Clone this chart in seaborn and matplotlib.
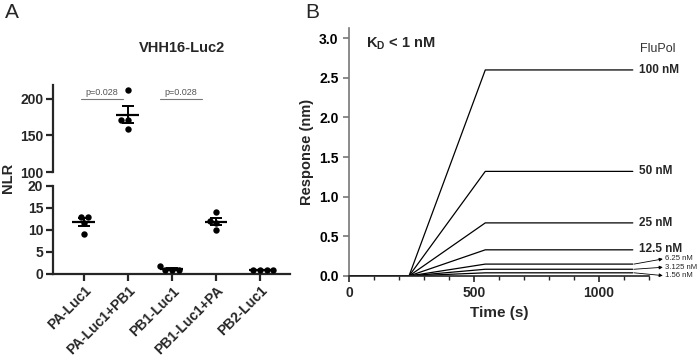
import numpy as np
import pandas as pd
import seaborn as sns
import matplotlib
matplotlib.use("Agg")
from matplotlib import pyplot as plt

# ---------------- data ----------------
# Panel A: NLR per construct (4 replicates each)
constructs = ["PA-Luc1", "PA-Luc1+PB1", "PB1-Luc1", "PB1-Luc1+PA", "PB2-Luc1"]
nlr_pa = [13.0, 13.0, 11.7, 9.2]
nlr_pa_pb1 = [212.0, 171.0, 171.0, 159.0]
nlr_pb1 = [1.0, 1.8, 1.0, 1.0]
nlr_pb1_pa = [14.0, 12.0, 11.5, 10.0]
nlr_pb2 = [1.0, 1.0, 1.0, 1.0]
pvals = ["p=0.028", "p=0.028"]

# Panel B: BLI sensorgram (time points and plateau response per concentration)
time_s = [0, 240, 545, 1135]
conc_labels = ["100 nM", "50 nM", "25 nM", "12.5 nM", "6.25 nM", "3.125 nM", "1.56 nM"]
plateau_nm = [2.60, 1.32, 0.67, 0.33, 0.15, 0.085, 0.04]

sns.set_style("ticks")
plt.rcParams['font.family'] = ['Liberation Sans', 'DejaVu Sans']

rows = []
for name, vals in zip(constructs, [nlr_pa, nlr_pa_pb1, nlr_pb1, nlr_pb1_pa, nlr_pb2]):
    for v in vals:
        rows.append({"construct": name, "nlr": v})
dfa = pd.DataFrame(rows)
stats = dfa.groupby("construct", sort=False)["nlr"].agg(["mean", "sem"]).reindex(constructs)

fig = plt.figure(figsize=(7, 3.61), dpi=100)
ax_top = fig.add_axes([0.0757, 0.5235, 0.3386, 0.241])
ax_bot = fig.add_axes([0.0757, 0.241, 0.3386, 0.2438])
ax_b = fig.add_axes([0.4986, 0.2355, 0.4286, 0.6871])

# ---------- panel A (broken axis) ----------
for ax in (ax_top, ax_bot):
    sns.swarmplot(data=dfa, x="construct", y="nlr", order=constructs,
                  color="black", size=4.6, ax=ax, zorder=3)
    xs = np.arange(len(constructs))
    ax.hlines(stats["mean"], xs - 0.26, xs + 0.26, color="black", lw=1.6, zorder=4)
    ax.errorbar(xs, stats["mean"], yerr=stats["sem"], fmt="none", ecolor="black",
                elinewidth=1.4, capsize=4, capthick=1.4, zorder=4)
    ax.set_xlim(-0.7, 4.68)
    ax.set_xlabel("")
    ax.set_ylabel("")
    for s in ("top", "right"):
        ax.spines[s].set_visible(False)
    ax.spines["left"].set_linewidth(1.6)
    ax.spines["bottom"].set_linewidth(1.6)
    ax.tick_params(width=1.6, length=5, labelsize=10, pad=2)

ax_top.set_ylim(100, 219)
ax_top.set_yticks([100, 150, 200])
ax_top.spines["bottom"].set_visible(False)
ax_top.tick_params(axis="x", bottom=False, labelbottom=False)
ax_top.spines["left"].set_bounds(100, 219)
for lab in ax_top.get_yticklabels():
    lab.set_fontweight("bold")

ax_bot.set_ylim(0, 20)
ax_bot.set_yticks([0, 5, 10, 15, 20])
ax_bot.set_xticks(range(len(constructs)))
ax_bot.set_xticklabels(constructs, rotation=45, ha="right", rotation_mode="anchor",
                       fontweight="bold", fontsize=10)
for lab in ax_bot.get_yticklabels():
    lab.set_fontweight("bold")

# significance bars
for (x0, x1), p in zip([(-0.07, 0.88), (1.73, 2.69)], pvals):
    ax_top.plot([x0, x1], [200, 200], color="#777777", lw=0.8)
    ax_top.text((x0 + x1) / 2, 203, p, ha="center", va="bottom", fontsize=6.5, color="#555555")

fig.text(182 / 700, 1 - 48 / 361, "VHH16-Luc2", ha="center", va="center",
         fontsize=10.5, fontweight="bold")
fig.text(8 / 700, 1 - 178 / 361, "NLR", rotation=90, ha="center", va="center",
         fontsize=10.5, fontweight="bold")
fig.text(12 / 700, 1 - 12 / 361, "A", ha="center", va="center", fontsize=15)
fig.text(312 / 700, 1 - 12 / 361, "B", ha="center", va="center", fontsize=15)

# ---------- panel B ----------
rows = []
for lab, top in zip(conc_labels, plateau_nm):
    for t, r in zip(time_s, [0.0, 0.0, top, top]):
        rows.append({"conc": lab, "time": t, "resp": r})
dfb = pd.DataFrame(rows)
sns.lineplot(data=dfb, x="time", y="resp", hue="conc", hue_order=conc_labels,
             palette={c: "black" for c in conc_labels}, lw=0.9, legend=False, ax=ax_b)

ax_b.set_xlim(0, 1200)
ax_b.set_ylim(0, 3.13)
ax_b.set_xticks([0, 500, 1000])
ax_b.set_xticks(np.arange(0, 1201, 100), minor=True)
ax_b.set_yticks(np.arange(0, 3.01, 0.5))
ax_b.set_yticklabels([f"{v:.1f}" for v in np.arange(0, 3.01, 0.5)])
for s in ("top", "right"):
    ax_b.spines[s].set_visible(False)
ax_b.spines["left"].set_color("#777777")
ax_b.spines["left"].set_linewidth(1.2)
ax_b.spines["bottom"].set_linewidth(1.2)
ax_b.tick_params(axis="y", colors="#777777", labelcolor="black", width=1.2, length=4, labelsize=10)
ax_b.tick_params(axis="x", which="major", width=1.2, length=4, labelsize=10)
ax_b.tick_params(axis="x", which="minor", width=1.0, length=3)
for lab in ax_b.get_xticklabels() + ax_b.get_yticklabels():
    lab.set_fontweight("bold")
ax_b.set_xlabel("Time (s)", fontsize=11, fontweight="bold")
ax_b.set_ylabel("Response (nm)", fontsize=10.5, fontweight="bold", labelpad=4)

narrow = ['Liberation Sans Narrow', 'Liberation Sans', 'DejaVu Sans']
label_y = [2.60, 1.32, 0.67, 0.345]
for lab, ly in zip(conc_labels[:4], label_y):
    ax_b.text(1160, ly, lab, ha="left", va="center", fontsize=8.5,
              fontweight="bold", family=narrow, clip_on=False)
small_y = [0.215, 0.11, 0.005]
for lab, top, ly in zip(conc_labels[4:], plateau_nm[4:], small_y):
    ax_b.annotate("", xy=(1255, ly), xytext=(1140, top), annotation_clip=False,
                  arrowprops=dict(arrowstyle="-|>", lw=0.6, color="black",
                                  mutation_scale=5, shrinkA=0, shrinkB=0))
    ax_b.text(1262, ly, lab, ha="left", va="center", fontsize=5.6,
              family=narrow, clip_on=False)

ax_b.text(68, 2.93, r"K$_\mathregular{D}$ < 1 nM", ha="left", va="center",
          fontsize=10.5, fontweight="bold")
ax_b.text(1165, 2.86, "FluPol", ha="left", va="center", fontsize=9, color="#333333")

fig.savefig("out.png", dpi=100)
